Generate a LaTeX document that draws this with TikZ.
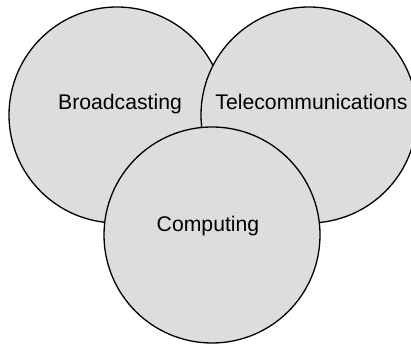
\documentclass[tikz,border=0pt]{standalone}
\usepackage{fontspec}
\setmainfont{Liberation Sans}
\definecolor{discfill}{HTML}{DDDDDD}
\begin{document}
\begin{tikzpicture}[x=.5pt,y=-.5pt,font=\fontsize{10.6}{12.7}\selectfont,
    disc/.style={circle,draw=black,line width=.65pt,fill=discfill,minimum size=108pt,inner sep=0pt},
    field/.style={anchor=base,inner sep=0pt,text=black}]
\useasboundingbox (0,0) rectangle (411,346);
\node[disc] (bcast) at (117,115) {};
\node[disc] (telco) at (309,115) {};
\node[disc] (comp) at (212,235) {};
\node[field] (bcastlbl) at (120,110) {Broadcasting};
\node[field] (telcolbl) at (311.5,110) {Telecommunications};
\node[field] (complbl) at (208,232) {Computing};
\end{tikzpicture}
\end{document}
